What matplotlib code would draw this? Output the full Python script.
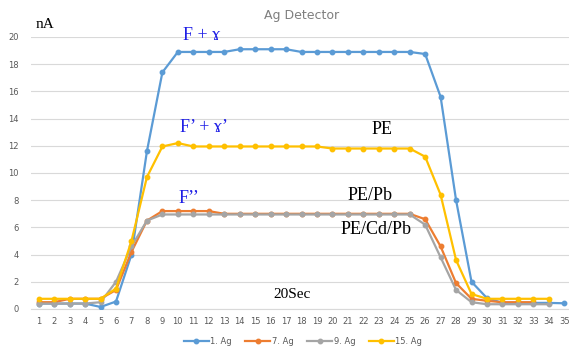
import numpy as np
import matplotlib
matplotlib.use("Agg")
import matplotlib.pyplot as plt

# time steps (x category labels)
steps = list(range(1, 36))

# detector current, nA
ag1 = [0.4, 0.4, 0.4, 0.4, 0.15, 0.55, 4.0, 11.6, 17.4, 18.9,
       18.9, 18.9, 18.9, 19.1, 19.1, 19.1, 19.1, 18.9, 18.9, 18.9,
       18.9, 18.9, 18.9, 18.9, 18.9, 18.75, 15.6, 8.0, 2.0, 0.8,
       0.45, 0.45, 0.45, 0.45, 0.42]
ag7 = [0.5, 0.5, 0.75, 0.75, 0.75, 1.4, 4.2, 6.5, 7.2, 7.2,
       7.2, 7.2, 7.0, 7.0, 7.0, 7.0, 7.0, 7.0, 7.0, 7.0,
       7.0, 7.0, 7.0, 7.0, 7.0, 6.6, 4.6, 1.9, 0.75, 0.6,
       0.5, 0.5, 0.5]
ag9 = [0.4, 0.4, 0.4, 0.4, 0.5, 2.0, 4.6, 6.5, 6.95, 6.95,
       6.95, 6.95, 6.95, 6.95, 6.95, 6.95, 6.95, 6.95, 6.95, 6.95,
       6.95, 6.95, 6.95, 6.95, 6.95, 6.2, 3.8, 1.4, 0.5, 0.35,
       0.35, 0.35, 0.35, 0.35]
ag15 = [0.75, 0.75, 0.75, 0.75, 0.75, 1.5, 5.0, 9.7, 11.95, 12.2,
        11.95, 11.95, 11.95, 11.95, 11.95, 11.95, 11.95, 11.95, 11.95, 11.8,
        11.8, 11.8, 11.8, 11.8, 11.8, 11.2, 8.4, 3.6, 1.1, 0.75,
        0.75, 0.75, 0.75, 0.75]

series = [("1. Ag", ag1, "#5B9BD5"),
          ("7. Ag", ag7, "#ED7D31"),
          ("9. Ag", ag9, "#A5A5A5"),
          ("15. Ag", ag15, "#FFC000")]

W, H = 569, 347
fig = plt.figure(figsize=(W / 100, H / 100), dpi=100)
ax = fig.add_axes([31 / W, 1 - 309 / H, (572 - 31) / W, (309 - 37) / H])

for name, vals, col in series:
    ax.plot(steps[:len(vals)], vals, color=col, lw=1.6, marker="o",
            markersize=3.2, label=name, zorder=3)

ax.set_xlim(0.5, 35.5)
ax.set_ylim(0, 20)
ax.set_xticks(steps)
ax.set_yticks(np.arange(0, 21, 2))
ax.tick_params(length=0, labelsize=6, colors="#595959", pad=6)
ax.tick_params(axis="y", pad=9)
ax.grid(axis="y", color="#D9D9D9", lw=0.8)
ax.set_axisbelow(True)
for s in ax.spines.values():
    s.set_visible(False)
ax.spines["bottom"].set_visible(True)
ax.spines["bottom"].set_color("#D9D9D9")

leg = fig.legend(loc="center", bbox_to_anchor=(303 / W, 1 - 341 / H), ncol=4,
                 frameon=False, fontsize=6, handlelength=3.0,
                 columnspacing=1.6, handletextpad=0.2)
for t in leg.get_texts():
    t.set_color("#595959")

fig.text(302 / W, 1 - 16 / H, "Ag Detector", ha="center", va="center",
         fontsize=9, color="#7F7F7F")

serif = ["Liberation Serif", "DejaVu Serif"]
def lab(x, y, s, col="black", size=13):
    fig.text(x / W, 1 - y / H, s, ha="center", va="center", fontsize=size,
             color=col, family=serif)

lab(45, 25, "nA", size=11)
lab(202, 35, "F + ɤ", col="#1F1FE6")
lab(204, 128, "F’ + ɤ’", col="#1F1FE6")
lab(189, 199, "F’’", col="#1F1FE6")
lab(382, 130, "PE")
lab(370, 195, "PE/Pb")
lab(376, 230, "PE/Cd/Pb")
lab(292, 295, "20Sec", size=11)

fig.savefig("out.png", dpi=100)
